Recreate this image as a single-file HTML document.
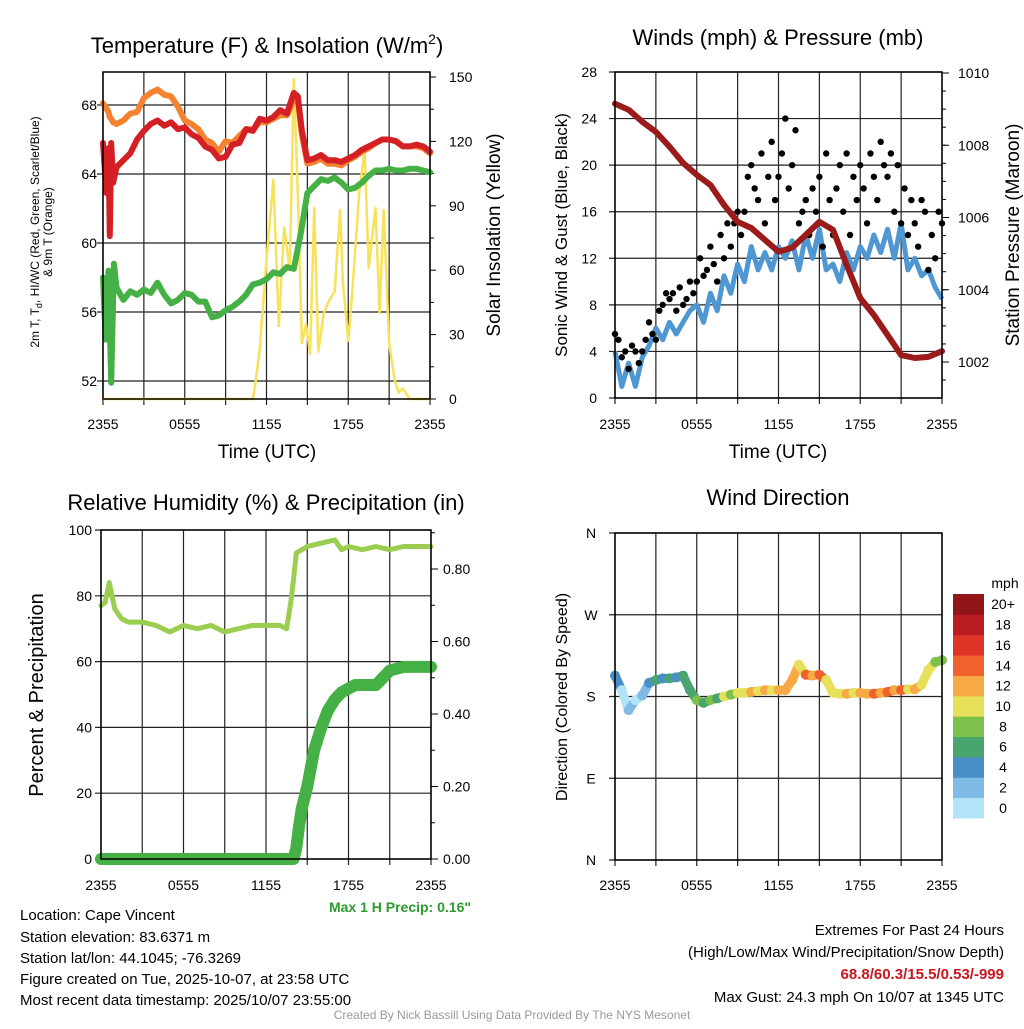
<!DOCTYPE html>
<html><head><meta charset="utf-8"><style>
body{margin:0;background:#fff}
svg text{font-family:"Liberation Sans",sans-serif}
</style></head><body>
<svg id="s" width="1024" height="1024" viewBox="0 0 1024 1024" xmlns="http://www.w3.org/2000/svg">
<g font-size="22" text-anchor="middle">
<text x="267" y="53">Temperature (F) &amp; Insolation (W/m<tspan font-size="14" dy="-9">2</tspan><tspan dy="9">)</tspan></text>
<text x="778" y="45">Winds (mph) &amp; Pressure (mb)</text>
<text x="266" y="510">Relative Humidity (%) &amp; Precipitation (in)</text>
<text x="778" y="505">Wind Direction</text>
</g>
<g font-size="19" text-anchor="middle">
<text x="267" y="458">Time (UTC)</text>
<text x="778" y="458">Time (UTC)</text>
<text transform="translate(500,235) rotate(-90)">Solar Insolation (Yellow)</text>
<text transform="translate(1019,235) rotate(-90)">Station Pressure (Maroon)</text>
<text transform="translate(567,235) rotate(-90)" font-size="17">Sonic Wind &amp; Gust (Blue, Black)</text>
<text transform="translate(43,695) rotate(-90)" font-size="20">Percent &amp; Precipitation</text>
<text transform="translate(567,697) rotate(-90)" font-size="16">Direction (Colored By Speed)</text>
<text transform="translate(39,232) rotate(-90)" font-size="12">2m T, T<tspan font-size="9" dy="3">d</tspan><tspan dy="-3">, HI/WC (Red, Green, Scarlet/Blue)</tspan></text>
<text transform="translate(52,232) rotate(-90)" font-size="12">&amp; 9m T (Orange)</text>
</g>
<g font-size="15">
<text x="20" y="920">Location: Cape Vincent</text>
<text x="20" y="942">Station elevation: 83.6371 m</text>
<text x="20" y="963">Station lat/lon: 44.1045; -76.3269</text>
<text x="20" y="984">Figure created on Tue, 2025-10-07, at 23:58 UTC</text>
<text x="20" y="1005">Most recent data timestamp: 2025/10/07 23:55:00</text>
<g text-anchor="end">
<text x="1004" y="935">Extremes For Past 24 Hours</text>
<text x="1004" y="957">(High/Low/Max Wind/Precipitation/Snow Depth)</text>
<text x="1004" y="979" fill="#c8161e" font-weight="bold">68.8/60.3/15.5/0.53/-999</text>
<text x="1004" y="1002">Max Gust: 24.3 mph On 10/07 at 1345 UTC</text>
<text x="471" y="912" fill="#2e9a2e" font-weight="bold" font-size="14">Max 1 H Precip: 0.16"</text>
</g>
<text x="512" y="1019" font-size="12" fill="#999" text-anchor="middle">Created By Nick Bassill Using Data Provided By The NYS Mesonet</text>
</g>
</svg>
<script>
// ---- data ----
const xTickLabels = ["2355","0555","1155","1755","2355"];
const tHours = [0,0.25,0.4,0.5,0.6,0.75,1,1.5,2,2.5,3,3.5,4,4.5,5,5.5,6,6.5,7,7.5,8,8.5,9,9.5,10,10.5,11,11.5,12,12.5,13,13.5,14,14.3,14.6,15,15.5,16,16.5,17,17.5,18,18.5,19,19.5,20,20.5,21,21.5,22,22.5,23,23.5,24];
const temp2m = [65.8,62.9,65.5,60.4,65.8,63.5,64.4,64.8,65.2,66.0,66.5,66.9,67.1,66.8,67.0,66.6,66.7,66.3,66.1,65.6,65.4,64.9,65.0,65.7,65.8,66.6,66.5,67.2,67.1,67.3,67.7,67.5,68.7,68.5,66.5,64.8,64.9,65.1,64.8,64.8,64.7,64.9,65.1,65.4,65.6,65.8,66.0,66.0,65.9,65.6,65.6,65.7,65.6,65.3];
const temp9m = [68.1,67.8,67.6,67.3,67.2,67.0,66.9,67.1,67.5,67.6,68.4,68.7,68.9,68.6,68.5,67.9,67.1,66.9,66.6,66.0,65.8,65.3,65.9,65.8,66.2,66.6,66.6,67.0,67.0,67.2,67.4,67.4,68.3,68.3,66.3,64.6,64.7,64.9,64.6,64.6,64.5,64.8,65.0,65.3,65.5,65.8,66.0,66.0,65.9,65.6,65.6,65.6,65.5,65.2];
const dewHours = [0,0.2,0.4,0.6,0.8,1,1.5,2,2.5,3,3.5,4,4.5,5,5.5,6,6.5,7,7.5,8,8.5,9,9.5,10,10.5,11,11.5,12,12.5,13,13.5,14,14.5,15,15.5,16,16.5,17,17.5,18,18.5,19,19.5,20,20.5,21,21.5,22,22.5,23,23.5,24];
const dewpoint = [58.0,54.4,58.4,51.9,58.8,57.4,56.7,57.2,57.0,57.3,57.1,57.7,57.0,56.5,56.7,57.1,57.0,56.6,56.6,55.7,55.8,56.1,56.3,56.6,57.0,57.6,57.7,57.9,58.3,58.2,58.6,58.5,60.5,62.9,63.3,63.7,63.6,63.8,63.5,63.1,63.2,63.5,63.9,64.2,64.2,64.3,64.2,64.2,64.3,64.3,64.2,64.1];
const solarHours = [0,11,11.2,11.5,12,12.5,12.9,13.3,13.7,14,14.3,14.6,14.9,15.2,15.5,15.8,16.2,16.6,17,17.4,17.6,18,18.3,18.8,19.2,19.5,20,20.3,20.6,21,21.4,21.7,22,22.5,23,24];
const solar = [0,0,8,23,65,102,34,80,60,149,96,26,35,21,89,22,40,46,50,88,55,27,50,96,116,61,89,40,88,26,9,3,5,0,0,0];
const tempTicks = [52,56,60,64,68];
const solarTicks = [0,30,60,90,120,150];

const halfHours = [0,0.5,1,1.5,2,2.5,3,3.5,4,4.5,5,5.5,6,6.5,7,7.5,8,8.5,9,9.5,10,10.5,11,11.5,12,12.5,13,13.5,14,14.5,15,15.5,16,16.5,17,17.5,18,18.5,19,19.5,20,20.5,21,21.5,22,22.5,23,23.5,24];
const windSpeed = [4,1,3,1,3.5,4.5,6,5,6.5,5.5,6.5,7.5,8,6.5,9,7.5,10.5,9,11.5,10,13,11,12.5,11,13,12,13.5,11,14,12,14.5,11,11.5,10,12.5,11,13,12,14,12.5,14.5,12,15,11,12,10.5,11,9.5,8.5];
const gusts = [5.5,5,3.5,4,2.5,4.5,4,3, 4,5,6.5,5.5,5,7.5,8,9, 8.5,9,7.5,9.5,8,8.5,10,9, 10,12,10.5,11,13,11.5,10,14, 12,15,13,15,16,14,16,19, 20,18,17,21,15,19,22,17, 19,21,24,18,20,23,15,16, 17,14,18,16,19,13,21,17, 14,18,20,16,21,14,19,17, 20,18,15,21,19,17,22,20, 19,21,16,20,15,18,14,17, 15,13,17,16,11,14,12,16,15];
const pressure = [1009.15,1008.98,1008.65,1008.37,1007.96,1007.51,1007.18,1006.90,1006.35,1005.88,1005.71,1005.38,1005.05,1005.16,1005.52,1005.88,1005.66,1004.69,1003.77,1003.30,1002.75,1002.19,1002.11,1002.14,1002.30];
const windTicks = [0,4,8,12,16,20,24,28];
const pressTicks = [1002,1004,1006,1008,1010];

const rhHours = [0,0.3,0.6,1,1.5,2,3,4,5,6,7,8,9,10,11,12,13,13.5,13.8,14,14.2,15,16,17,17.5,18,19,20,21,22,23,24];
const rh = [77,78,84,76,73,72,72,71,69,71,70,71,69,70,71,71,71,70,78,85,93,95,96,97,94,95,94,95,94,95,95,95];
const precipHours = [0,14,14.2,14.4,14.6,15,15.5,16,16.5,17,17.5,18,18.5,19,20,20.5,21,22,23,24];
const precip = [0,0,0.03,0.09,0.14,0.2,0.3,0.36,0.41,0.44,0.46,0.47,0.48,0.48,0.48,0.5,0.52,0.53,0.53,0.53];
const rhTicks = [0,20,40,60,80,100];
const precipTicks = [0,0.2,0.4,0.6,0.8];

const windDir = [203,187,165,176,181,195,198,200,200,201,203,187,176,173,176,178,180,182,184,184,185,186,187,187,187,187,198,215,204,203,204,198,184,183,183,184,184,183,183,184,185,187,187,188,188,193,209,218,220];
const dirLabels = ["N","E","S","W","N"];
const dirTicks = [0,90,180,270,360];
const speedBins = ["0","2","4","6","8","10","12","14","16","18","20+"];
const speedColors = ["#b3e3f7","#7fbbe5","#4a8ec8","#48a56f","#7cc24a","#e7e05a","#f7a943","#f0622d","#de3427","#bc1c24","#921618"];

// ---- helpers ----
const NS="http://www.w3.org/2000/svg", svg=document.getElementById('s');
function el(tag,attrs,parent){const e=document.createElementNS(NS,tag);for(const k in attrs)e.setAttribute(k,attrs[k]);(parent||svg).appendChild(e);return e;}
function lin(d0,d1,r0,r1){return v=>r0+(v-d0)*(r1-r0)/(d1-d0);}
function pathOf(xs,ys,fx,fy){return xs.map((x,i)=>(i?'L':'M')+fx(x).toFixed(1)+' '+fy(ys[i]).toFixed(1)).join(' ');}

function frame(x0,x1,y0,y1,name){
  const g=el('g',{});
  
  
  for(let h=0;h<=24;h+=3){const x=lin(0,24,x0,x1)(h);el('line',{x1:x,x2:x,y1:y0,y2:y1+6,stroke:'#222','stroke-width':1.2},g);}
  return g;
}
function hline(g,x0,x1,y){el('line',{x1:x0-6,x2:x1,y1:y,y2:y,stroke:'#222','stroke-width':1.2},g);}
function xlabels(x0,x1,y){xTickLabels.forEach((t,i)=>{const e=el('text',{x:lin(0,4,x0,x1)(i),y:y,'font-size':14,'text-anchor':'middle'});e.textContent=t;
  
  });}
function box(x0,x1,y0,y1,name){const r=el('rect',{x:x0,y:y0,width:x1-x0,height:y1-y0,fill:'none',stroke:'#000','stroke-width':1.5});
  
  }

// ---- Panel 1 ----
(function(){
  const x0=103,x1=430,y0=72,y1=399;
  const fx=lin(0,24,x0,x1), fy=lin(52,68,381,105), fs=lin(0,150,399,77);
  const g=frame(x0,x1,y0,y1,'temperature');
  tempTicks.forEach(t=>{hline(g,x0,x1,fy(t));const e=el('text',{x:97,y:fy(t)+5,'font-size':14,'text-anchor':'end'});e.textContent=t;
    
    });
  solarTicks.forEach(t=>{el('line',{x1:x1,x2:x1+6,y1:fs(t),y2:fs(t),stroke:'#000'});const e=el('text',{x:449,y:fs(t)+5,'font-size':14});e.textContent=t;
    
    });
  for(let t=15;t<=150;t+=30)el('line',{x1:x1,x2:x1+4,y1:fs(t),y2:fs(t),stroke:'#000'});
  xlabels(x0,x1,429);
  const s=el('path',{d:pathOf(solarHours,solar,fx,fs),fill:'none',stroke:'#f9e15a','stroke-width':2.5,'stroke-linejoin':'round'});
  
  
  const d=el('path',{d:pathOf(dewHours,dewpoint,fx,fy),fill:'none',stroke:'#45b045','stroke-width':6,'stroke-linejoin':'round','stroke-linecap':'round'});
  
  
  const o=el('path',{d:pathOf(tHours,temp9m,fx,fy),fill:'none',stroke:'#f58231','stroke-width':6,'stroke-linejoin':'round','stroke-linecap':'round'});
  
  
  const r=el('path',{d:pathOf(tHours,temp2m,fx,fy),fill:'none',stroke:'#d42025','stroke-width':6,'stroke-linejoin':'round','stroke-linecap':'round'});
  
  
  box(x0,x1,y0,y1,'temperature');
})();

// ---- Panel 2 ----
(function(){
  const x0=615,x1=942,y0=72,y1=398;
  const fx=lin(0,24,x0,x1), fw=lin(0,28,398,72), fp=lin(1002,1010,362,73);
  const g=frame(x0,x1,y0,y1,'winds');
  windTicks.forEach(t=>{hline(g,x0,x1,fw(t));const e=el('text',{x:597,y:fw(t)+5,'font-size':14,'text-anchor':'end'});e.textContent=t;
    
    });
  pressTicks.forEach(t=>{el('line',{x1:x1,x2:x1+7,y1:fp(t),y2:fp(t),stroke:'#000'});const e=el('text',{x:958,y:fp(t)+5,'font-size':14});e.textContent=t;
    
    });
  for(let t=1001.5;t<=1010;t+=0.5)el('line',{x1:x1,x2:x1+4,y1:fp(t),y2:fp(t),stroke:'#000'});
  xlabels(x0,x1,429);
  const w=el('path',{d:pathOf(halfHours,windSpeed,fx,fw),fill:'none',stroke:'#4f97d3','stroke-width':5,'stroke-linejoin':'round'});
  
  
  const gg=el('g',{fill:'#000'});
  
  
  gusts.forEach((v,i)=>{const c=el('circle',{cx:fx(i*24/(gusts.length-1)),cy:fw(v),r:3.2},gg);
    
    });
  const p=el('path',{d:pathOf(pressure.map((v,i)=>i),pressure,fx,fp),fill:'none',stroke:'#9b1a1a','stroke-width':6,'stroke-linejoin':'round','stroke-linecap':'round'});
  
  
  box(x0,x1,y0,y1,'winds');
})();

// ---- Panel 3 ----
(function(){
  const x0=101,x1=431,y0=530,y1=859;
  const fx=lin(0,24,x0,x1), fr=lin(0,100,859,530), fp=lin(0,0.8,859,569);
  const g=frame(x0,x1,y0,y1,'humidity');
  rhTicks.forEach(t=>{hline(g,x0,x1,fr(t));const e=el('text',{x:92,y:fr(t)+5,'font-size':14,'text-anchor':'end'});e.textContent=t;
    
    });
  precipTicks.forEach(t=>{el('line',{x1:x1,x2:x1+7,y1:fp(t),y2:fp(t),stroke:'#000'});const e=el('text',{x:443,y:fp(t)+5,'font-size':14});e.textContent=t.toFixed(2);
    
    });
  for(let t=0.1;t<0.9;t+=0.2)el('line',{x1:x1,x2:x1+4,y1:fp(t),y2:fp(t),stroke:'#000'});
  xlabels(x0,x1,890);
  const r=el('path',{d:pathOf(rhHours,rh,fx,fr),fill:'none',stroke:'#9acd50','stroke-width':5,'stroke-linejoin':'round','stroke-linecap':'round'});
  
  
  const p=el('path',{d:pathOf(precipHours,precip,fx,fp),fill:'none',stroke:'#45b045','stroke-width':12,'stroke-linejoin':'round','stroke-linecap':'round'});
  
  
  box(x0,x1,y0,y1,'humidity');
})();

// ---- Panel 4 ----
(function(){
  const x0=615,x1=942,y0=533,y1=860;
  const fx=lin(0,24,x0,x1), fd=lin(0,360,860,533);
  const g=frame(x0,x1,y0,y1,'direction');
  dirTicks.forEach((t,i)=>{hline(g,x0,x1,fd(t));const e=el('text',{x:591,y:fd(t)+5,'font-size':14,'text-anchor':'middle'});e.textContent=dirLabels[i];
    
    });
  xlabels(x0,x1,890);
  const col=v=>speedColors[Math.min(10,Math.floor(v/2))];
  const dg=el('g',{});
  
  
  for(let i=0;i<windDir.length-1;i++){
    el('line',{x1:fx(halfHours[i]),y1:fd(windDir[i]),x2:fx(halfHours[i+1]),y2:fd(windDir[i+1]),stroke:col(windSpeed[i]),'stroke-width':9,'stroke-linecap':'round'},dg);
  }
  windDir.forEach((v,i)=>{const c=el('circle',{cx:fx(halfHours[i]),cy:fd(v),r:5,fill:col(windSpeed[i])},dg);
    
    });
  box(x0,x1,y0,y1,'direction');
  // colorbar
  const cb=el('g',{});
  
  
  const bh=224/11;
  speedBins.forEach((lab,i)=>{const y=818-(i+1)*bh;
    el('rect',{x:953,y:y,width:31,height:bh+0.5,fill:speedColors[i]},cb);
    const e=el('text',{x:1003,y:y+bh/2+5,'font-size':14,'text-anchor':'middle'},cb);e.textContent=lab;
    
    });
  const t=el('text',{x:1005,y:588,'font-size':14,'text-anchor':'middle'},cb);t.textContent='mph';
  
  
})();
</script>
</body></html>
